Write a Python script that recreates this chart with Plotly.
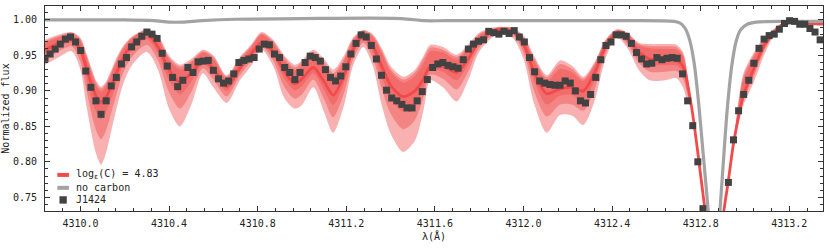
import plotly.graph_objects as go

# ---------------- observed spectrum (J1424) ----------------
wavelength = [
    4309.840, 4309.863, 4309.886, 4309.909, 4309.932, 4309.955, 4309.978, 4310.001, 4310.024, 4310.047,
    4310.070, 4310.093, 4310.116, 4310.139, 4310.162, 4310.185, 4310.208, 4310.231, 4310.254, 4310.277,
    4310.300, 4310.323, 4310.346, 4310.369, 4310.392, 4310.416, 4310.439, 4310.462, 4310.485, 4310.508,
    4310.531, 4310.554, 4310.577, 4310.600, 4310.623, 4310.646, 4310.669, 4310.692, 4310.715, 4310.738,
    4310.761, 4310.784, 4310.807, 4310.830, 4310.853, 4310.876, 4310.899, 4310.922, 4310.945, 4310.968,
    4310.991, 4311.014, 4311.037, 4311.060, 4311.083, 4311.106, 4311.129, 4311.152, 4311.175, 4311.198,
    4311.221, 4311.244, 4311.267, 4311.290, 4311.313, 4311.336, 4311.359, 4311.382, 4311.405, 4311.428,
    4311.451, 4311.474, 4311.497, 4311.520, 4311.543, 4311.566, 4311.590, 4311.613, 4311.636, 4311.659,
    4311.682, 4311.705, 4311.728, 4311.751, 4311.774, 4311.797, 4311.820, 4311.843, 4311.866, 4311.889,
    4311.912, 4311.935, 4311.958, 4311.981, 4312.004, 4312.027, 4312.050, 4312.073, 4312.096, 4312.119,
    4312.142, 4312.165, 4312.188, 4312.211, 4312.234, 4312.257, 4312.280, 4312.303, 4312.326, 4312.349,
    4312.372, 4312.395, 4312.418, 4312.441, 4312.464, 4312.487, 4312.510, 4312.533, 4312.556, 4312.579,
    4312.602, 4312.625, 4312.648, 4312.671, 4312.694, 4312.718, 4312.741, 4312.764, 4312.787, 4312.810,
    4312.925, 4312.948, 4312.971, 4312.994, 4313.017, 4313.040, 4313.063, 4313.086, 4313.109, 4313.132,
    4313.155, 4313.178, 4313.201, 4313.224, 4313.247, 4313.270, 4313.293, 4313.316, 4313.339,
]
flux = [
    0.946, 0.952, 0.959, 0.966, 0.973, 0.976, 0.969, 0.957, 0.928, 0.905,
    0.886, 0.867, 0.886, 0.907, 0.919, 0.938, 0.947, 0.962, 0.969, 0.977,
    0.983, 0.980, 0.974, 0.953, 0.935, 0.919, 0.906, 0.915, 0.933, 0.926,
    0.941, 0.942, 0.943, 0.929, 0.917, 0.911, 0.914, 0.924, 0.940, 0.943,
    0.945, 0.947, 0.959, 0.966, 0.965, 0.952, 0.947, 0.933, 0.926, 0.916,
    0.926, 0.940, 0.949, 0.947, 0.942, 0.930, 0.919, 0.914, 0.921, 0.934,
    0.952, 0.967, 0.979, 0.976, 0.964, 0.945, 0.922, 0.901, 0.890, 0.886,
    0.881, 0.876, 0.876, 0.886, 0.899, 0.916, 0.933, 0.938, 0.940, 0.936,
    0.934, 0.932, 0.944, 0.959, 0.966, 0.970, 0.972, 0.984, 0.982, 0.980,
    0.984, 0.981, 0.985, 0.976, 0.969, 0.947, 0.927, 0.914, 0.911, 0.909,
    0.908, 0.908, 0.914, 0.911, 0.900, 0.886, 0.883, 0.895, 0.919, 0.944,
    0.964, 0.969, 0.979, 0.979, 0.977, 0.967, 0.954, 0.945, 0.938, 0.939,
    0.947, 0.944, 0.946, 0.947, 0.946, 0.924, 0.886, 0.851, 0.800, 0.734,
    0.771, 0.831, 0.872, 0.895, 0.915, 0.939, 0.960, 0.973, 0.978, 0.980,
    0.987, 0.995, 0.999, 0.998, 0.994, 0.994, 0.988, 0.983, 0.972,
]

# ---------------- synthetic model, log eps(C) = 4.83, with abundance bands ----------------
model_wave = [
    4309.840, 4309.900, 4309.960, 4310.000, 4310.025, 4310.050, 4310.070, 4310.093, 4310.115, 4310.140,
    4310.165, 4310.190, 4310.230, 4310.300, 4310.350, 4310.400, 4310.449, 4310.500, 4310.553, 4310.600,
    4310.660, 4310.720, 4310.770, 4310.818, 4310.870, 4310.920, 4310.968, 4311.000, 4311.051, 4311.100,
    4311.141, 4311.190, 4311.230, 4311.277, 4311.320, 4311.360, 4311.400, 4311.457, 4311.510, 4311.550,
    4311.580, 4311.637, 4311.698, 4311.750, 4311.800, 4311.879, 4311.950, 4312.000, 4312.050, 4312.105,
    4312.165, 4312.220, 4312.270, 4312.320, 4312.370, 4312.421, 4312.470, 4312.520, 4312.570, 4312.640,
    4312.690, 4312.720, 4312.740, 4312.760, 4312.780, 4312.800, 4312.820, 4312.840, 4312.860, 4312.880,
    4312.900, 4312.925, 4312.948, 4312.970, 4312.993, 4313.038, 4313.083, 4313.128, 4313.166, 4313.203,
    4313.300, 4313.354,
]
model_best = [
    0.957, 0.967, 0.972, 0.958, 0.934, 0.909, 0.893, 0.884, 0.891, 0.907,
    0.927, 0.945, 0.965, 0.980, 0.962, 0.930, 0.912, 0.925, 0.943, 0.932,
    0.906, 0.932, 0.952, 0.968, 0.955, 0.928, 0.910, 0.917, 0.933, 0.913,
    0.894, 0.922, 0.958, 0.977, 0.963, 0.935, 0.908, 0.892, 0.900, 0.918,
    0.935, 0.935, 0.926, 0.945, 0.970, 0.986, 0.984, 0.966, 0.925, 0.896,
    0.903, 0.905, 0.900, 0.925, 0.962, 0.981, 0.973, 0.955, 0.945, 0.944,
    0.943, 0.935, 0.910, 0.875, 0.830, 0.780, 0.730, 0.670, 0.620, 0.640,
    0.720, 0.774, 0.826, 0.862, 0.894, 0.930, 0.962, 0.981, 0.993, 0.996,
    0.995, 0.994,
]
inner_hi = [
    0.968, 0.975, 0.980, 0.970, 0.949, 0.925, 0.908, 0.899, 0.906, 0.923,
    0.942, 0.957, 0.973, 0.985, 0.973, 0.944, 0.930, 0.939, 0.954, 0.945,
    0.917, 0.943, 0.961, 0.979, 0.967, 0.943, 0.929, 0.935, 0.951, 0.935,
    0.919, 0.942, 0.970, 0.983, 0.975, 0.953, 0.927, 0.912, 0.921, 0.940,
    0.956, 0.954, 0.944, 0.959, 0.978, 0.989, 0.988, 0.974, 0.941, 0.914,
    0.931, 0.926, 0.914, 0.936, 0.969, 0.985, 0.979, 0.964, 0.960, 0.959,
    0.958, 0.949, 0.921, 0.875, 0.830, 0.780, 0.730, 0.670, 0.620, 0.640,
    0.720, 0.774, 0.826, 0.878, 0.916, 0.946, 0.970, 0.985, 0.994, 0.997,
    0.995, 0.994,
]
inner_lo = [
    0.952, 0.962, 0.968, 0.950, 0.920, 0.890, 0.871, 0.860, 0.870, 0.890,
    0.914, 0.935, 0.957, 0.973, 0.953, 0.915, 0.895, 0.913, 0.938, 0.925,
    0.900, 0.927, 0.947, 0.965, 0.950, 0.918, 0.901, 0.907, 0.925, 0.901,
    0.880, 0.911, 0.952, 0.973, 0.955, 0.920, 0.890, 0.871, 0.881, 0.906,
    0.930, 0.927, 0.915, 0.937, 0.966, 0.984, 0.982, 0.960, 0.913, 0.881,
    0.893, 0.894, 0.887, 0.914, 0.957, 0.980, 0.969, 0.948, 0.937, 0.936,
    0.936, 0.927, 0.903, 0.875, 0.830, 0.780, 0.730, 0.670, 0.620, 0.640,
    0.720, 0.774, 0.826, 0.860, 0.890, 0.925, 0.958, 0.980, 0.992, 0.996,
    0.995, 0.994,
]
mid_hi = [
    0.970, 0.977, 0.982, 0.973, 0.952, 0.929, 0.912, 0.903, 0.910, 0.927,
    0.945, 0.960, 0.975, 0.986, 0.976, 0.947, 0.934, 0.942, 0.956, 0.948,
    0.920, 0.946, 0.963, 0.981, 0.970, 0.947, 0.933, 0.940, 0.955, 0.941,
    0.925, 0.946, 0.973, 0.985, 0.978, 0.957, 0.931, 0.916, 0.926, 0.946,
    0.961, 0.958, 0.948, 0.962, 0.980, 0.989, 0.988, 0.976, 0.945, 0.919,
    0.938, 0.931, 0.917, 0.938, 0.971, 0.986, 0.981, 0.966, 0.963, 0.963,
    0.962, 0.952, 0.923, 0.875, 0.830, 0.780, 0.730, 0.670, 0.620, 0.640,
    0.720, 0.774, 0.826, 0.882, 0.921, 0.950, 0.972, 0.986, 0.995, 0.997,
    0.995, 0.994,
]
mid_lo = [
    0.945, 0.955, 0.963, 0.941, 0.904, 0.868, 0.845, 0.832, 0.844, 0.870,
    0.898, 0.923, 0.947, 0.965, 0.943, 0.898, 0.875, 0.898, 0.932, 0.916,
    0.892, 0.922, 0.942, 0.962, 0.943, 0.906, 0.889, 0.895, 0.916, 0.888,
    0.863, 0.897, 0.944, 0.968, 0.946, 0.903, 0.868, 0.846, 0.859, 0.893,
    0.923, 0.917, 0.902, 0.927, 0.961, 0.982, 0.979, 0.954, 0.898, 0.864,
    0.881, 0.881, 0.872, 0.901, 0.952, 0.978, 0.965, 0.940, 0.927, 0.927,
    0.928, 0.917, 0.895, 0.875, 0.830, 0.780, 0.730, 0.670, 0.620, 0.640,
    0.720, 0.774, 0.826, 0.858, 0.886, 0.919, 0.954, 0.979, 0.992, 0.995,
    0.995, 0.994,
]
outer_hi = [
    0.972, 0.979, 0.983, 0.975, 0.955, 0.932, 0.915, 0.906, 0.913, 0.930,
    0.948, 0.962, 0.976, 0.987, 0.978, 0.950, 0.937, 0.945, 0.958, 0.950,
    0.922, 0.948, 0.965, 0.983, 0.972, 0.950, 0.937, 0.943, 0.958, 0.945,
    0.930, 0.950, 0.975, 0.986, 0.980, 0.960, 0.935, 0.920, 0.930, 0.950,
    0.965, 0.962, 0.951, 0.965, 0.982, 0.990, 0.989, 0.978, 0.948, 0.922,
    0.943, 0.935, 0.920, 0.940, 0.972, 0.987, 0.982, 0.968, 0.966, 0.966,
    0.965, 0.955, 0.925, 0.875, 0.830, 0.780, 0.730, 0.670, 0.620, 0.640,
    0.720, 0.774, 0.826, 0.885, 0.925, 0.953, 0.974, 0.987, 0.995, 0.997,
    0.995, 0.994,
]
outer_lo = [
    0.937, 0.947, 0.956, 0.930, 0.883, 0.840, 0.812, 0.796, 0.812, 0.845,
    0.878, 0.907, 0.935, 0.955, 0.930, 0.875, 0.850, 0.880, 0.925, 0.905,
    0.883, 0.915, 0.935, 0.958, 0.935, 0.890, 0.875, 0.880, 0.905, 0.870,
    0.841, 0.880, 0.935, 0.962, 0.935, 0.880, 0.840, 0.814, 0.830, 0.875,
    0.915, 0.905, 0.885, 0.915, 0.955, 0.979, 0.975, 0.945, 0.880, 0.841,
    0.866, 0.865, 0.852, 0.885, 0.945, 0.976, 0.960, 0.930, 0.915, 0.915,
    0.918, 0.905, 0.885, 0.875, 0.830, 0.780, 0.730, 0.670, 0.620, 0.640,
    0.720, 0.774, 0.826, 0.855, 0.880, 0.911, 0.948, 0.977, 0.991, 0.995,
    0.995, 0.994,
]

# ---------------- model without carbon ----------------
gray_wave = [
    4309.840, 4310.200, 4310.330, 4310.400, 4310.460, 4310.550, 4310.700, 4311.000, 4311.450, 4311.550,
    4311.650, 4312.000, 4312.400, 4312.680, 4312.710, 4312.730, 4312.750, 4312.770, 4312.790, 4312.810,
    4312.830, 4312.850, 4312.865, 4312.880, 4312.900, 4312.920, 4312.940, 4312.960, 4312.980, 4313.010,
    4313.050, 4313.200, 4313.354,
]
gray_flux = [
    1.000, 1.000, 0.999, 0.997, 0.997, 0.999, 1.001, 1.002, 1.002, 0.999,
    0.999, 0.999, 0.999, 0.998, 0.995, 0.988, 0.972, 0.940, 0.885, 0.815,
    0.745, 0.670, 0.630, 0.700, 0.790, 0.875, 0.935, 0.970, 0.986, 0.994,
    0.997, 0.998, 0.998,
]

legend_labels = ["log<sub>ε</sub>(C) = 4.83", "no carbon", "J1424"]
x_ticks = [4310.0, 4310.4, 4310.8, 4311.2, 4311.6, 4312.0, 4312.4, 4312.8, 4313.2]
y_ticks = [0.75, 0.80, 0.85, 0.90, 0.95, 1.00]

RED = "rgb(242,74,74)"
BAND = "rgba(240,80,80,0.45)"
GRAY = "rgb(163,163,163)"
DATA = "rgb(66,66,66)"
FONT = "DejaVu Sans Mono"

fig = go.Figure()

for lo, hi in [(outer_lo, outer_hi), (mid_lo, mid_hi), (inner_lo, inner_hi)]:
    fig.add_trace(go.Scatter(x=model_wave, y=lo, mode="lines",
                             line=dict(width=0, shape="spline", smoothing=0.8),
                             hoverinfo="skip", showlegend=False))
    fig.add_trace(go.Scatter(x=model_wave, y=hi, mode="lines", fill="tonexty",
                             fillcolor=BAND,
                             line=dict(width=0, shape="spline", smoothing=0.8),
                             hoverinfo="skip", showlegend=False))

fig.add_trace(go.Scatter(x=model_wave, y=model_best, mode="lines",
                         line=dict(color=RED, width=2.8, shape="spline", smoothing=0.8),
                         showlegend=False))
fig.add_trace(go.Scatter(x=gray_wave, y=gray_flux, mode="lines",
                         line=dict(color=GRAY, width=3.2, shape="spline", smoothing=0.8),
                         showlegend=False))
fig.add_trace(go.Scatter(x=wavelength, y=flux, mode="markers",
                         marker=dict(symbol="square", size=7, color=DATA, line=dict(width=0)),
                         showlegend=False))

# ---- compact legend (lower left) ----
fig.add_shape(type="line", xref="paper", yref="paper", x0=0.0158, x1=0.0308, y0=0.176, y1=0.176,
              line=dict(color=RED, width=4))
fig.add_shape(type="line", xref="paper", yref="paper", x0=0.0158, x1=0.0308, y0=0.113, y1=0.113,
              line=dict(color=GRAY, width=4))
fig.add_shape(type="rect", xref="paper", yref="paper", x0=0.0186, x1=0.0280, y0=0.036, y1=0.072,
              fillcolor=DATA, line=dict(width=0))
for lab, yy in zip(legend_labels, [0.176, 0.113, 0.054]):
    fig.add_annotation(text=lab, xref="paper", yref="paper", x=0.0373, y=yy,
                       xanchor="left", yanchor="middle", showarrow=False,
                       font=dict(family=FONT, size=10, color="#222"))

axis_common = dict(showline=True, linecolor="#333", linewidth=1, mirror="ticks",
                   ticks="inside", ticklen=5, tickwidth=1, tickcolor="#333",
                   showgrid=False, zeroline=False, automargin=False,
                   tickfont=dict(family=FONT, size=10, color="#222"))

fig.update_xaxes(range=[4309.84, 4313.352], tickvals=x_ticks,
                 ticktext=[f"{v:.1f}" for v in x_ticks],
                 minor=dict(ticks="inside", ticklen=3, tickcolor="#333", dtick=0.08, tick0=4310.0),
                 ticklabelstandoff=3,
                 title=dict(text="λ(Å)", font=dict(family=FONT, size=10, color="#222"), standoff=4),
                 **axis_common)
fig.update_yaxes(range=[0.7307, 1.0197], tickvals=y_ticks,
                 ticktext=[f"{v:.2f}" for v in y_ticks],
                 minor=dict(ticks="inside", ticklen=3, tickcolor="#333", dtick=0.01, tick0=0.75),
                 ticklabelstandoff=5,
                 title=dict(text="Normalized flux", font=dict(family=FONT, size=10, color="#222"), standoff=3),
                 **axis_common)

fig.update_layout(width=830, height=249, margin=dict(l=45, r=7, t=6, b=38),
                  plot_bgcolor="white", paper_bgcolor="white", showlegend=False)

fig.write_html("out.html", config={"displayModeBar": False},
               post_script="document.body.style.margin='0px';document.body.style.overflow='hidden';")
